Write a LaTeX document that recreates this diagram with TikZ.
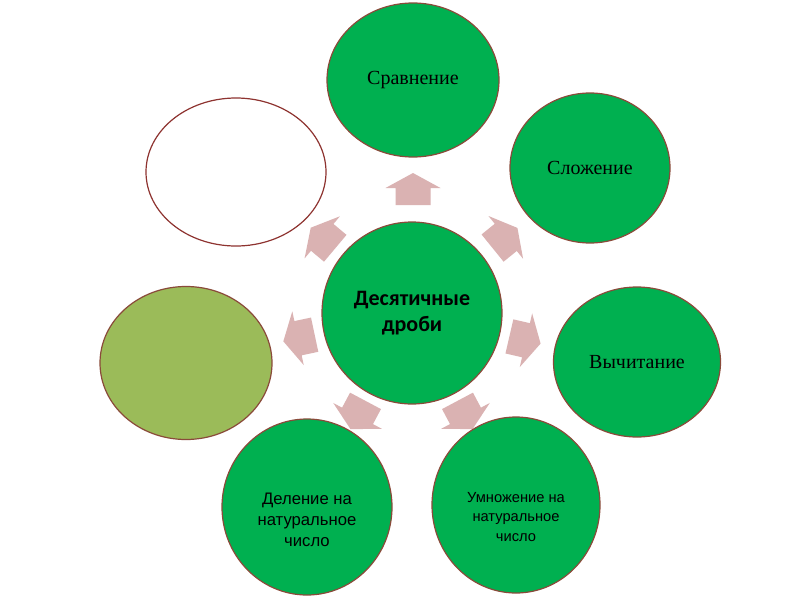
\documentclass[tikz,border=0pt]{standalone}
\usepackage{fontspec}
\setmainfont{Liberation Serif}
\newfontfamily\sansf{Liberation Sans}
\newfontfamily\calib{Carlito}
\usetikzlibrary{shapes.geometric}
\definecolor{mygreen}{HTML}{00B050}
\definecolor{myolive}{HTML}{9BBB59}
\definecolor{mypink}{HTML}{DAB2B2}
\definecolor{myedge}{HTML}{8A4A3A}
\definecolor{myred}{HTML}{8E3330}
\tikzset{
  bub/.style={ellipse, draw=myedge, line width=0.9pt, fill=mygreen, inner sep=0pt, align=center, text=black},
  radarrow/.style={fill=mypink, draw=none},
}
\newcommand\blockarr[3]{%
  \fill[radarrow, shift={(#1,#2)}, rotate=#3]
    (-16,-17.5) -- (1,-17.5) -- (1,-27.5) -- (16,0) -- (1,27.5) -- (1,17.5) -- (-16,17.5) -- cycle;}
\begin{document}
\begin{tikzpicture}[x=0.75pt,y=-0.75pt]
\useasboundingbox (0,0) rectangle (800,600);
\fill[white] (0,0) rectangle (800,600);
% arrows
\blockarr{413}{189}{90}
\blockarr{505}{238}{39}
\blockarr{525}{340}{-13}
\blockarr{465}{415}{-62}
\blockarr{358}{415}{-118}
\blockarr{299}{338}{192}
\blockarr{323}{238}{140}
% bubbles
\node[bub, minimum width=180*0.75pt, minimum height=182*0.75pt, font=\calib\bfseries\fontsize{16.5}{19.5}\selectfont] (c) at (412,313) {Десятичные\\дроби};
\node[bub, minimum width=172*0.75pt, minimum height=154*0.75pt, font=\fontsize{15}{17}\selectfont] (s1) at (413,80) {Сравнение};
\node[bub, minimum width=160*0.75pt, minimum height=150*0.75pt, font=\fontsize{15}{17}\selectfont] (s2) at (590,168) {Сложение};
\node[bub, minimum width=167*0.75pt, minimum height=150*0.75pt, font=\fontsize{15}{17}\selectfont] (s3) at (637,362) {Вычитание};
\node[bub, minimum width=168*0.75pt, minimum height=176*0.75pt] (s4) at (516,505) {};
\node at (516,517) [align=center, font=\sansf\fontsize{11}{14.6}\selectfont] (t4) {Умножение на\\натуральное\\число};
\node[bub, minimum width=170*0.75pt, minimum height=176*0.75pt] (s5) at (307,507) {};
\node at (307,520) [align=center, font=\sansf\fontsize{12.5}{15.75}\selectfont] (t5) {Деление на\\натуральное\\число};
\node[bub, fill=myolive, minimum width=172*0.75pt, minimum height=153*0.75pt] (s6) at (186,363) {};
\node[bub, fill=white, draw=myred, minimum width=180*0.75pt, minimum height=148*0.75pt] (s7) at (236,172) {};
\end{tikzpicture}
\end{document}
